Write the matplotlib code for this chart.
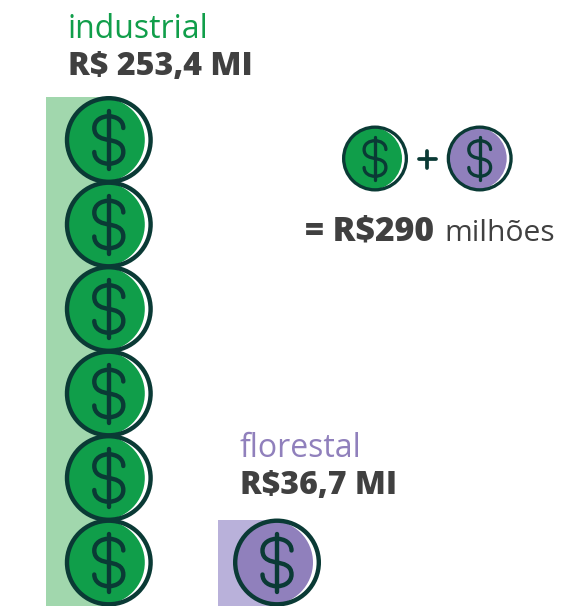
import matplotlib
matplotlib.use('Agg')
import matplotlib.pyplot as plt
from matplotlib.patches import Circle, PathPatch, Rectangle
from matplotlib.path import Path

sectors = ['industrial', 'florestal']
value_labels = ['R$ 253,4 MI', 'R$36,7 MI']
coin_counts = [6, 1]
total_prefix = '= R$290'
total_suffix = 'milhões'

GREEN = '#109e4a'
GREEN_BAR = '#a1d7ad'
PURPLE = '#9080bc'
PURPLE_BAR = '#b9b1da'
DARK = '#0a3a35'
TEXT = '#404040'

fills = [GREEN, PURPLE]
bars = [GREEN_BAR, PURPLE_BAR]
text_cols = ['#109e4a', '#9080bc']

plt.rcParams['font.family'] = ['Open Sans', 'DejaVu Sans']

fig = plt.figure(figsize=(5.61, 6.06), dpi=100)
ax = fig.add_axes([0, 0, 1, 1])
ax.set_xlim(0, 561)
ax.set_ylim(606, 0)  # pixel coords, y down
ax.axis('off')


def coin(cx, cy, r, col, z):
    s = r / 44.0
    lw = 4.4 * s * 72 / 100
    base = Circle((cx, cy), r - 2.2 * s, fc='white', ec='none', zorder=z)
    ax.add_patch(base)
    face = Circle((cx - 6 * s, cy), 42 * s, fc=col, ec='none', zorder=z)
    ax.add_patch(face)
    face.set_clip_path(base)  # keep the offset fill inside the ring
    ax.add_patch(Circle((cx, cy), r - 2.2 * s, fc='none', ec=DARK, lw=lw, zorder=z))
    # dollar sign, S curve then the bar
    w, h = 14.5 * s, 24 * s
    verts = [(cx + w, cy - h * 0.5),
             (cx + w, cy - h * 1.15), (cx - w, cy - h * 1.15), (cx - w, cy - h * 0.5),
             (cx - w, cy - h * 0.1), (cx - w * 0.4, cy - h * 0.05), (cx, cy),
             (cx + w * 0.4, cy + h * 0.05), (cx + w, cy + h * 0.1), (cx + w, cy + h * 0.5),
             (cx + w, cy + h * 1.15), (cx - w, cy + h * 1.15), (cx - w, cy + h * 0.5)]
    codes = [Path.MOVETO] + [Path.CURVE4] * 12
    ax.add_patch(PathPatch(Path(verts, codes), fc='none', ec=DARK, lw=lw, capstyle='round', zorder=z))
    ax.plot([cx, cx], [cy - 29 * s, cy + 29 * s], color=DARK, lw=lw, solid_capstyle='round', zorder=z)


bar_left = [46, 218]
coin_x = [108.8, 277]
step = 84.5
bottom = 606

for i in range(2):
    top = bottom - coin_counts[i] * step - (2.5 if i == 0 else 2)
    ax.add_patch(Rectangle((bar_left[i], top), 62, bottom - top, fc=bars[i], ec='none', zorder=1))
    for j in range(coin_counts[i]):
        coin(coin_x[i], 562.5 - j * step, 44, fills[i], 2 + j)

coin(375, 158.5, 33, GREEN, 2)
coin(479.7, 158.5, 33, PURPLE, 2)
ax.plot([419, 436], [159, 159], color=DARK, lw=2.7, solid_capstyle='round')
ax.plot([427.5, 427.5], [150.5, 167.5], color=DARK, lw=2.7, solid_capstyle='round')

ax.text(68, 38, sectors[0], color=text_cols[0], fontsize=23, va='baseline')
ax.text(68, 75, value_labels[0], color=TEXT, fontsize=23.1, fontweight=800, va='baseline')
ax.text(240, 457, sectors[1], color=text_cols[1], fontsize=23, va='baseline')
ax.text(240, 494, value_labels[1], color=TEXT, fontsize=23, fontweight=800, va='baseline')
ax.text(305, 241, total_prefix, color=TEXT, fontsize=24.2, fontweight=800, va='baseline')
ax.text(444, 241, total_suffix, color=TEXT, fontsize=21.6, va='baseline')

fig.savefig('out.png', dpi=100)
